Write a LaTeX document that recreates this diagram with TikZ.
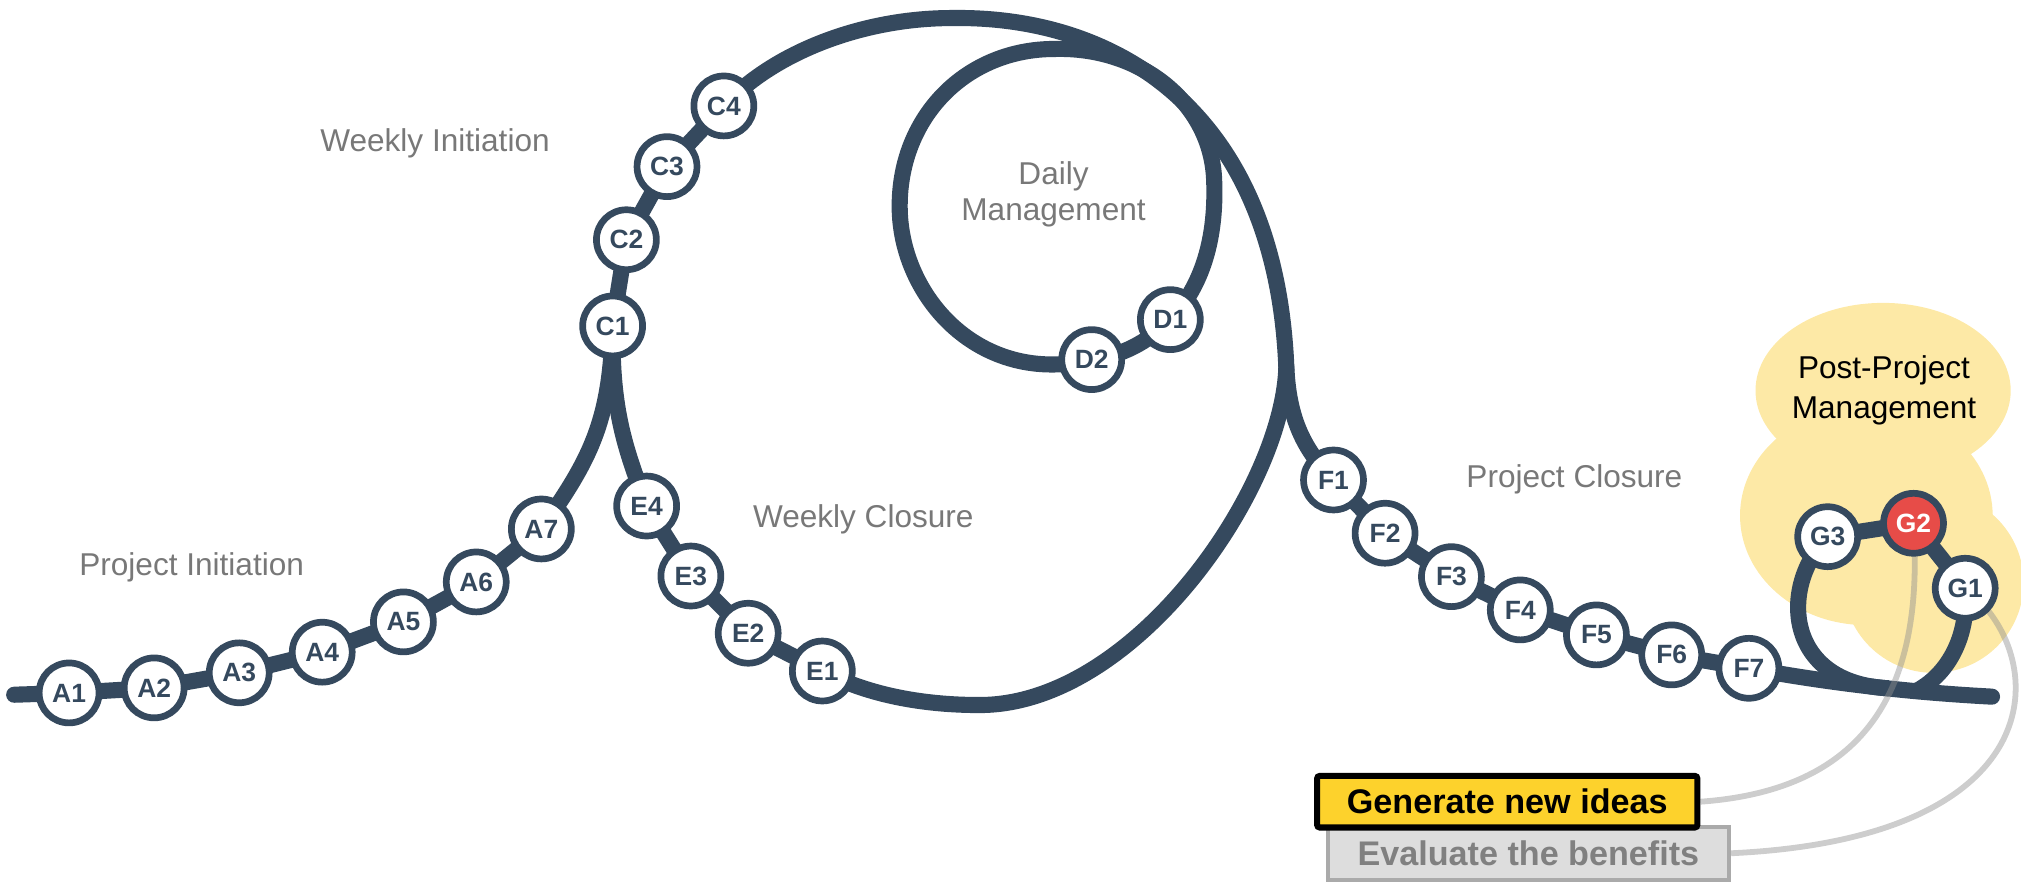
\documentclass[tikz,border=0pt]{standalone}
\usepackage{fontspec}
\setmainfont{Liberation Sans}
\pgfdeclarelayer{cloud}
\pgfdeclarelayer{lines}
\pgfdeclarelayer{conn}
\pgfsetlayers{cloud,lines,conn,main}
\definecolor{navy}{RGB}{53,73,94}
\definecolor{labelgray}{RGB}{120,120,120}
\definecolor{redg}{RGB}{231,76,72}
\definecolor{cloudy}{RGB}{253,233,166}
\definecolor{boxy}{RGB}{253,210,44}
\definecolor{boxg}{RGB}{221,221,221}
\definecolor{boxgb}{RGB}{170,170,170}
\definecolor{txtg}{RGB}{128,128,128}
\definecolor{conng}{RGB}{144,144,144}
\begin{document}
\begin{tikzpicture}[x=1pt,y=-1pt,
  stop/.style={circle,draw=navy,line width=5.2pt,fill=white,minimum size=46.5pt,inner sep=0pt,text=navy,font=\fontsize{20.5}{24}\selectfont\bfseries},
  hot/.style={stop,fill=redg,text=white},
  mainline/.style={draw=navy,line width=12.5pt,line join=round},
  phase/.style={text=labelgray,font=\fontsize{24.5}{28}\selectfont,align=center,inner sep=0pt},
  conn/.style={draw=conng,line width=4.5pt,draw opacity=0.45},
  genbox/.style={draw=black,line width=4.7pt,fill=boxy,rounded corners=2pt,text=black,font=\fontsize{26.5}{30}\selectfont\bfseries,inner sep=0pt,minimum width=295pt,minimum height=40pt},
  evabox/.style={draw=boxgb,line width=3pt,fill=boxg,text=txtg,font=\fontsize{26.5}{30}\selectfont\bfseries,inner sep=0pt,minimum width=311.6pt,minimum height=41pt},
]
\useasboundingbox (0,0) rectangle (1568,684.3);

% cloud
\begin{pgfonlayer}{cloud}
\fill[cloudy] (1461,303) ellipse [x radius=99, y radius=68];
\fill[cloudy] (1448,400) ellipse [x radius=98, y radius=85];
\fill[cloudy] (1500,452) circle [radius=70];
\end{pgfonlayer}

% stops
\node[stop] (A1) at (53.6,537.6) {A1};
\node[stop] (A2) at (119.6,533.7) {A2};
\node[stop] (A3) at (185.6,522) {A3};
\node[stop] (A4) at (250,506) {A4};
\node[stop] (A5) at (313,482.5) {A5};
\node[stop] (A6) at (369.5,451.5) {A6};
\node[stop] (A7) at (420,410.4) {A7};
\node[stop] (C1) at (475.3,252.9) {C1};
\node[stop] (C2) at (486,186) {C2};
\node[stop] (C3) at (517.5,129.3) {C3};
\node[stop] (C4) at (561.6,82.2) {C4};
\node[stop] (D1) at (908,248) {D1};
\node[stop] (D2) at (847,279) {D2};
\node[stop] (E1) at (638,520.6) {E1};
\node[stop] (E2) at (580.5,491.3) {E2};
\node[stop] (E3) at (536,446.9) {E3};
\node[stop] (E4) at (501.7,392.6) {E4};
\node[stop] (F1) at (1034.6,372.4) {F1};
\node[stop] (F2) at (1074.6,413.7) {F2};
\node[stop] (F3) at (1126.1,447.4) {F3};
\node[stop] (F4) at (1179.5,473.2) {F4};
\node[stop] (F5) at (1238.6,492.6) {F5};
\node[stop] (F6) at (1297,508.1) {F6};
\node[stop] (F7) at (1356.9,518.5) {F7};
\node[stop] (G1) at (1524.7,456.4) {G1};
\node[hot]  (G2) at (1484.6,406) {G2};
\node[stop] (G3) at (1418,416.4) {G3};

% phase labels
\node[phase] (pi) at (148.7,440.5) {Project Initiation};
\node[phase] (wi) at (337.5,111) {Weekly Initiation};
\node[phase] (wc) at (669.8,403) {Weekly Closure};
\node[phase] (dm) at (817.4,151) {Daily\\Management};
\node[phase] (pc) at (1221.5,372) {Project Closure};
\node[phase,text=black,font=\fontsize{24.5}{31}\selectfont] (ppm) at (1461.7,302.5) {Post-Project\\Management};

% boxes
\node[evabox] (eva) at (1185.8,662) {Evaluate the benefits};
\node[genbox] (gen) at (1169.4,622) {Generate new ideas};

% main lines
\begin{pgfonlayer}{lines}
\coordinate (S) at (11,539);
\coordinate (T) at (738.6,14);
\coordinate (R) at (998,285);
\coordinate (Bot) at (760,547);
\coordinate (End) at (1545.5,540.5);
\coordinate (Tp) at (818,38);
\coordinate (Rt) at (942,140);
\coordinate (Lt) at (698,160);
\coordinate (P1) at (1465,534);
\coordinate (P2) at (1485,537);
\draw[mainline,line cap=round] (S) -- (A1.center) -- (A2.center) -- (A3.center) -- (A4.center) -- (A5.center) -- (A6.center) -- (A7.center)
   .. controls (455,360) and (474,330) .. (C1.center);
\draw[mainline] (C1.center) -- (C2.center) -- (C3.center) -- (C4.center)
   .. controls (601,40) and (670,14) .. (T)
   .. controls (870,12) and (990,90) .. (R)
   .. controls (995,380) and (880,547) .. (Bot)
   .. controls (705,547) and (665,535) .. (E1.center)
   -- (E2.center) -- (E3.center) -- (E4.center)
   .. controls (486,350) and (474,320) .. (C1.center);
\draw[mainline] (Tp) .. controls (885,36) and (940,80) .. (Rt)
   .. controls (944,190) and (930,225) .. (D1.center)
   .. controls (890,266) and (870,276) .. (D2.center)
   .. controls (760,300) and (698,230) .. (Lt)
   .. controls (698,90) and (750,38) .. (Tp) -- cycle;
\draw[mainline,line cap=round] (R) .. controls (1000,330) and (1015,352) .. (F1.center)
   -- (F2.center) -- (F3.center) -- (F4.center) -- (F5.center) -- (F6.center) -- (F7.center)
   .. controls (1420,530) and (1480,537) .. (End);
\draw[mainline] (P1) .. controls (1385,530) and (1380,455) .. (G3.center)
   -- (G2.center) -- (G1.center)
   .. controls (1528,495) and (1510,525) .. (P2);
\end{pgfonlayer}

% connectors
\begin{pgfonlayer}{conn}
\draw[conn] (G2.center) .. controls (1492,520) and (1460,612) .. (gen.east);
\draw[conn] (G1.center) .. controls (1590,505) and (1600,650) .. (eva.east);
\end{pgfonlayer}
\end{tikzpicture}
\end{document}
